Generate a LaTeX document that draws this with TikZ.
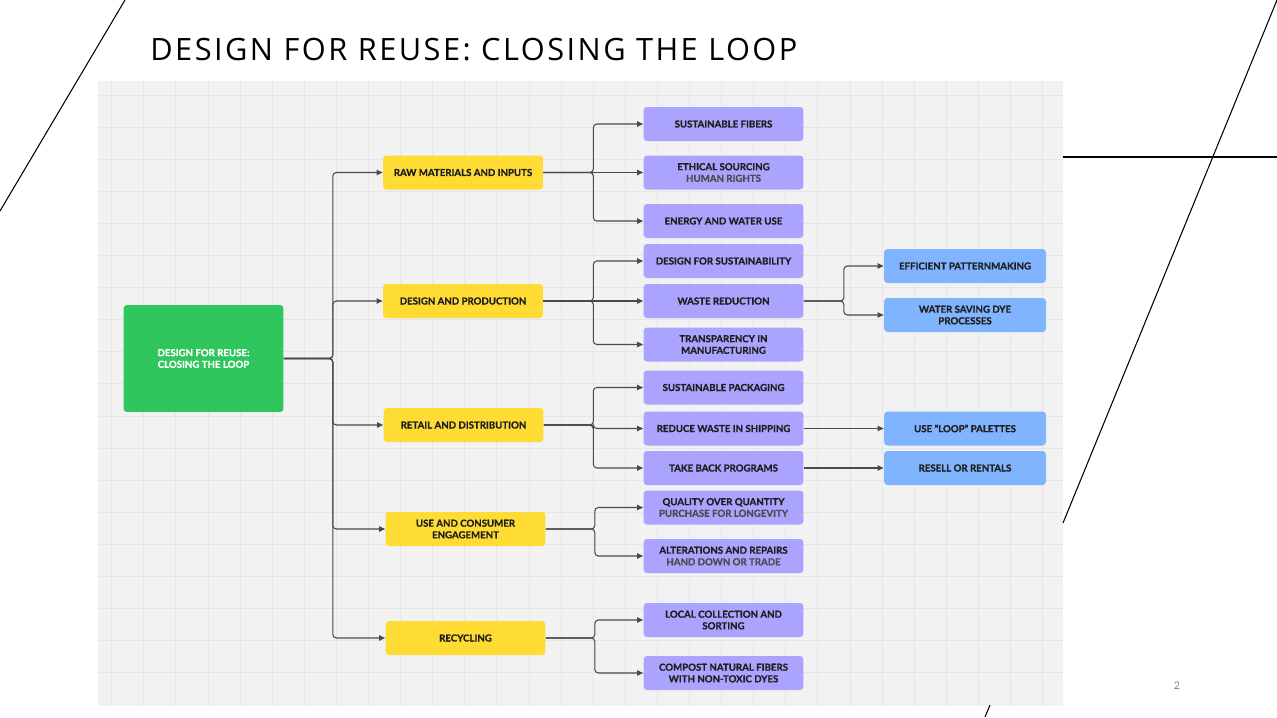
\documentclass[tikz,border=0pt]{standalone}
\usepackage{fontspec}
\setmainfont{Lato}[BoldFeatures={FakeBold=0.8}]
\newfontfamily\titlefont[LetterSpace=8]{Open Sans}
\usepackage{tikz}
\usetikzlibrary{positioning, arrows.meta}
\definecolor{rootgreen}{HTML}{2EC65D}
\definecolor{catyellow}{HTML}{FEDC34}
\definecolor{topicpurple}{HTML}{ABA4FF}
\definecolor{leafblue}{HTML}{80B4FF}
\definecolor{boardgrey}{HTML}{F2F2F2}
\definecolor{gridgrey}{HTML}{E6E6E6}
\definecolor{linkgrey}{HTML}{4A4A4A}
\definecolor{inkdark}{HTML}{1E1E1E}
\tikzset{every node/.style={font=\fontsize{5.5}{6.6}\selectfont\bfseries}}
\newcommand{\sub}[1]{{\color{inkdark!80}#1}}

\begin{document}
\begin{tikzpicture}[x=0.02cm,y=-0.02cm,
    box/.style={rounded corners=2pt,inner sep=0pt,align=center,text=inkdark,
                minimum width=3.2cm,minimum height=0.68cm},
    root/.style={box,fill=rootgreen,text=white,minimum height=2.14cm},
    cat/.style={box,fill=catyellow},
    topic/.style={box,fill=topicpurple},
    leaf/.style={box,fill=leafblue,minimum width=3.24cm},
    link/.style={-{Triangle[length=3.4pt,width=3pt]},linkgrey,line width=0.6pt,rounded corners=2pt},
    deco/.style={black,line width=0.6pt},
    gridline/.style={gridgrey,line width=0.5pt}]
    \useasboundingbox (0,0) rectangle (1277,717);
    % board and grid
    \fill[boardgrey] (98,81) rectangle (1063,706);
    \foreach \gx in {0,...,29} \draw[gridline] ({111.7+32.1*\gx},81) -- ++(0,625);
    \foreach \gy in {0,...,18} \draw[gridline] (98,{95+32.1*\gy}) -- ++(965,0);
    % slide lines
    \draw[deco] (125,0) -- (0,211);
    \draw[deco] (1277,0) -- (1063,523);
    \draw[deco] (1063,157) -- (1277,157);
    \draw[deco] (990,705) -- (985,717);
    \node[anchor=base west,inner sep=0pt,font=\titlefont\fontsize{17.5}{20}\selectfont] (title) at (150,60) {DESIGN FOR REUSE: CLOSING THE LOOP};
    \node[font=\fontsize{6}{7}\selectfont,text=black!50] (page) at (1177,686) {2};
    % nodes
    \node[root] (loop) at (203.5,358.5) {DESIGN FOR REUSE:\\CLOSING THE LOOP};
    \node[cat] (raw) at (463,172.5) {RAW MATERIALS AND INPUTS};
    \node[cat] (prod) at (463,301) {DESIGN AND PRODUCTION};
    \node[cat] (retail) at (463.5,425) {RETAIL AND DISTRIBUTION};
    \node[cat] (use) at (465.5,529) {USE AND CONSUMER\\ENGAGEMENT};
    \node[cat] (recyc) at (465.5,638) {RECYCLING};
    \node[topic] (fibers) at (723.5,124) {SUSTAINABLE FIBERS};
    \node[topic] (ethical) at (723.5,172.5) {ETHICAL SOURCING\\\sub{HUMAN RIGHTS}};
    \node[topic] (energy) at (723.5,221) {ENERGY AND WATER USE};
    \node[topic] (dfs) at (723.5,261) {DESIGN FOR SUSTAINABILITY};
    \node[topic] (waste) at (723.5,301) {WASTE REDUCTION};
    \node[topic] (transp) at (723.5,344.5) {TRANSPARENCY IN\\MANUFACTURING};
    \node[topic] (pack) at (723.5,387.5) {SUSTAINABLE PACKAGING};
    \node[topic] (ship) at (723.5,428.5) {REDUCE WASTE IN SHIPPING};
    \node[topic] (takeback) at (723.5,468) {TAKE BACK PROGRAMS};
    \node[topic] (quality) at (723.5,507.5) {QUALITY OVER QUANTITY\\\sub{PURCHASE FOR LONGEVITY}};
    \node[topic] (alter) at (723.5,556) {ALTERATIONS AND REPAIRS\\\sub{HAND DOWN OR TRADE}};
    \node[topic] (collect) at (723.5,620) {LOCAL COLLECTION AND\\SORTING};
    \node[topic] (compost) at (723.5,673) {COMPOST NATURAL FIBERS\\WITH NON-TOXIC DYES};
    \node[leaf] (pattern) at (965,266) {EFFICIENT PATTERNMAKING};
    \node[leaf] (dye) at (965,315) {WATER SAVING DYE\\PROCESSES};
    \node[leaf] (pallet) at (965,428.5) {USE "LOOP" PALETTES};
    \node[leaf] (resell) at (965,468) {RESELL OR RENTALS};
    % connectors
    \foreach \t in {raw,prod,retail,use,recyc}
        \draw[link] (loop.east) -- ++(49,0) |- (\t.west);
    \foreach \t in {fibers,energy}
        \draw[link] (raw.east) -- ++(50,0) |- (\t.west);
    \draw[link] (raw) -- (ethical);
    \foreach \t in {dfs,transp}
        \draw[link] (prod.east) -- ++(50,0) |- (\t.west);
    \draw[link] (prod) -- (waste);
    \foreach \t in {pack,ship,takeback}
        \draw[link] (retail.east) -- ++(49.5,0) |- (\t.west);
    \foreach \t in {quality,alter}
        \draw[link] (use.east) -- ++(49,0) |- (\t.west);
    \foreach \t in {collect,compost}
        \draw[link] (recyc.east) -- ++(49,0) |- (\t.west);
    \foreach \t in {pattern,dye}
        \draw[link] (waste.east) -- ++(40,0) |- (\t.west);
    \draw[link] (ship) -- (pallet);
    \draw[link] (takeback) -- (resell);
\end{tikzpicture}
\end{document}
